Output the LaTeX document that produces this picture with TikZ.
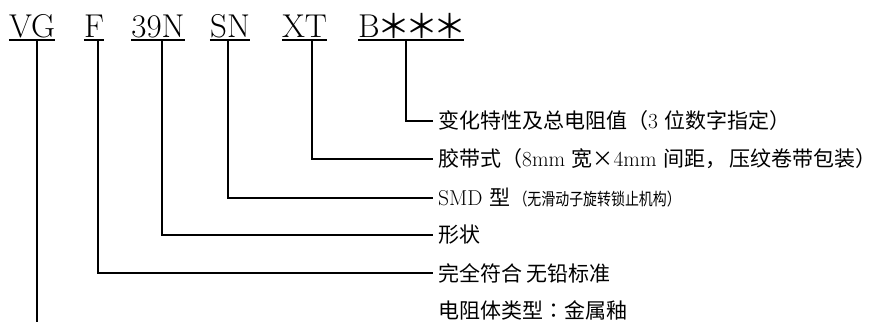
\documentclass[tikz,border=0pt]{standalone}
\usepackage{fontspec}
\newfontfamily\cjk{Noto Sans CJK SC}
\newfontfamily\cjkjp{Noto Sans CJK JP}
\newcommand\lat[1]{{\fontsize{21.5}{24}\selectfont #1}}
\begin{document}
\begin{tikzpicture}[x=1pt,y=-1pt,
  code/.style={inner sep=0pt,anchor=base,font=\fontsize{33}{38}\selectfont},
  lbl/.style={anchor=west,inner sep=5pt,font=\fontsize{21}{24}\selectfont},
  conn/.style={line width=1.3pt},
  uline/.style={line width=1.8pt}]
\useasboundingbox (0,0) rectangle (886,322);
% codes
\node[code] (vg) at (32,37) {VG};
\node[code] (f) at (94,37) {F};
\node[code] (n39) at (158,37) {39N};
\node[code] (sn) at (230,37) {SN};
\node[code] (xt) at (304.5,37) {XT};
\node[code,anchor=base west] (b) at (358,37) {B\makebox[28pt]{\raisebox{-1pt}{\cjk ＊}}\makebox[28pt]{\raisebox{-1pt}{\cjk ＊}}\makebox[28pt]{\raisebox{-1pt}{\cjk ＊}}};
% underlines
\foreach \n in {vg,f,n39,sn,xt,b}{
  \draw[uline] ([yshift=-3pt]\n.base west) -- ([yshift=-3pt]\n.base east);
}
% labels
\node[lbl] (l1) at (433,121) {{\cjk 变化特性及总电阻值（}\lat{3} {\cjk 位数字指定）}};
\node[lbl] (l2) at (433,159) {{\cjk 胶带式（}\lat{8mm} {\cjk 宽×}\lat{4mm} {\cjk 间距，\,压纹卷带包装）}};
\node[lbl] (l3) at (433,198) {\lat{SMD} {\cjk 型}\,\scalebox{0.82}[1]{\fontsize{17}{18}\selectfont\cjk （无滑动子旋转锁止机构）}};
\node[lbl] (l4) at (433,235) {{\cjk 形状}};
\node[lbl] (l5) at (433,273) {{\cjk 完全符合 无铅标准}};
\node[lbl] (l6) at (433,310) {{\cjk 电阻体类型}{\cjkjp ：}{\cjk 金属釉}};
% connector start points
\coordinate (cb) at (406,40);
\coordinate (cxt) at (312,40);
\coordinate (csn) at (228,40);
\coordinate (cn) at (162,40);
\coordinate (cf) at (98,40);
\coordinate (cvg) at (37,40);
\coordinate (vgend) at (37,322);
\draw[conn] (cb) |- (l1.west);
\draw[conn] (cxt) |- (l2.west);
\draw[conn] (csn) |- (l3.west);
\draw[conn] (cn) |- (l4.west);
\draw[conn] (cf) |- (l5.west);
\draw[conn] (cvg) -- (vgend);
\end{tikzpicture}
\end{document}
